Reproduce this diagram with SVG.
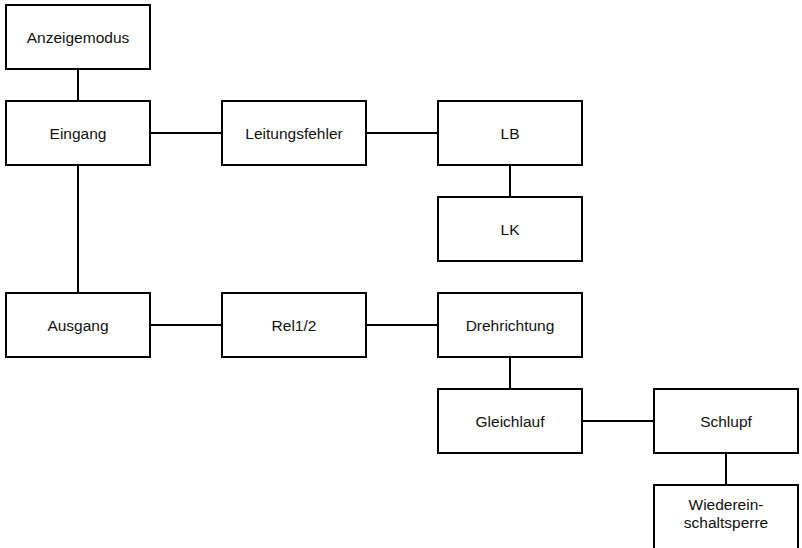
<svg xmlns="http://www.w3.org/2000/svg" width="802" height="548" viewBox="0 0 802 548">
<style>
.box{fill:#fff;stroke:#000;stroke-width:2}
.lbl{font-family:"Liberation Sans",Arial,sans-serif;font-size:15.5px;fill:#111;text-anchor:middle}
.con{stroke:#000;stroke-width:2;fill:none}
</style>
<rect width="802" height="548" fill="#fff"/>
<g id="connectors">
<line class="con" x1="78" y1="69" x2="78" y2="101"/>
<line class="con" x1="150" y1="133" x2="222" y2="133"/>
<line class="con" x1="366" y1="133" x2="438" y2="133"/>
<line class="con" x1="510" y1="165" x2="510" y2="197"/>
<line class="con" x1="78" y1="165" x2="78" y2="293"/>
<line class="con" x1="150" y1="325" x2="222" y2="325"/>
<line class="con" x1="366" y1="325" x2="438" y2="325"/>
<line class="con" x1="510" y1="357" x2="510" y2="389"/>
<line class="con" x1="582" y1="421" x2="654" y2="421"/>
<line class="con" x1="726" y1="453" x2="726" y2="485"/>
</g>
<g id="anzeigemodus"><rect class="box" x="6" y="5" width="144" height="64"/><text class="lbl" x="78" y="42.5">Anzeigemodus</text></g>
<g id="eingang"><rect class="box" x="6" y="101" width="144" height="64"/><text class="lbl" x="78" y="138.5">Eingang</text></g>
<g id="leitungsfehler"><rect class="box" x="222" y="101" width="144" height="64"/><text class="lbl" x="294" y="138.5">Leitungsfehler</text></g>
<g id="lb"><rect class="box" x="438" y="101" width="144" height="64"/><text class="lbl" x="510" y="138.5">LB</text></g>
<g id="lk"><rect class="box" x="438" y="197" width="144" height="64"/><text class="lbl" x="510" y="234.5">LK</text></g>
<g id="ausgang"><rect class="box" x="6" y="293" width="144" height="64"/><text class="lbl" x="78" y="330.5">Ausgang</text></g>
<g id="rel12"><rect class="box" x="222" y="293" width="144" height="64"/><text class="lbl" x="294" y="330.5">Rel1/2</text></g>
<g id="drehrichtung"><rect class="box" x="438" y="293" width="144" height="64"/><text class="lbl" x="510" y="330.5">Drehrichtung</text></g>
<g id="gleichlauf"><rect class="box" x="438" y="389" width="144" height="64"/><text class="lbl" x="510" y="426.5">Gleichlauf</text></g>
<g id="schlupf"><rect class="box" x="654" y="389" width="144" height="64"/><text class="lbl" x="726" y="426.5">Schlupf</text></g>
<g id="wiedereinschaltsperre"><rect class="box" x="654" y="485" width="144" height="64"/><text class="lbl" x="726" y="510">Wiederein-</text><text class="lbl" x="726" y="528">schaltsperre</text></g>
</svg>
